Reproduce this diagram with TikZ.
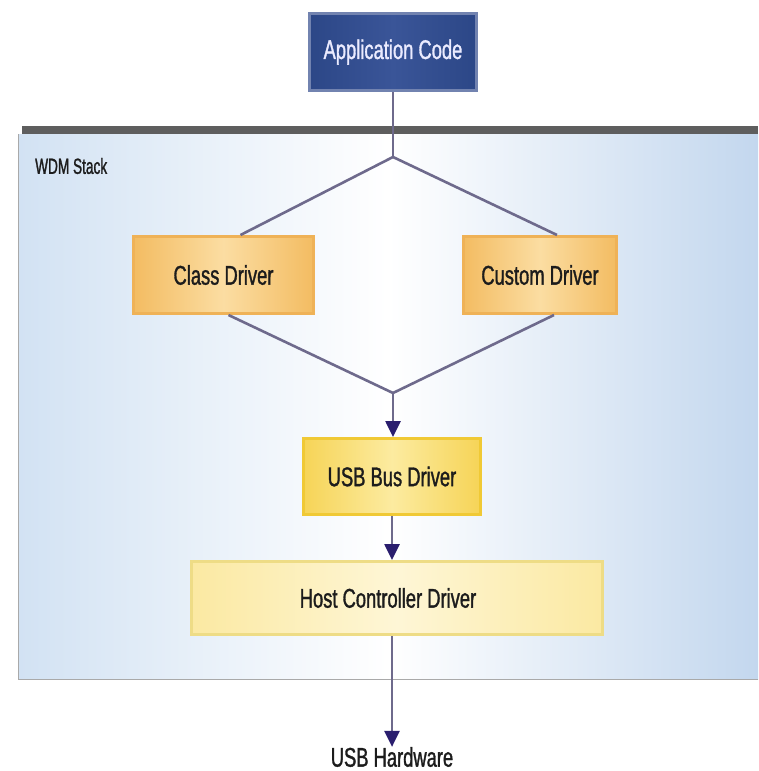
\documentclass[tikz,border=0pt]{standalone}
\usepackage{fontspec}
\newfontfamily\dfont[FakeStretch=0.68,FakeBold=1.2]{Liberation Sans}
\newfontfamily\sfont[FakeStretch=0.62,FakeBold=1.2]{Liberation Sans}
\usetikzlibrary{arrows.meta,calc}

\definecolor{appfill}{HTML}{2C4787}
\definecolor{appmid}{HTML}{3A5598}
\definecolor{appedge}{HTML}{7283B0}
\definecolor{barc}{HTML}{5E5E5E}
\definecolor{panelside}{HTML}{D2E2F3}
\definecolor{panelright}{HTML}{C3D7EE}
\definecolor{panelrule}{HTML}{A9A9A9}
\definecolor{linkc}{HTML}{6E6A8C}
\definecolor{tipc}{HTML}{2A1E6E}
\definecolor{orgedge}{HTML}{EFB257}
\definecolor{orgside}{HTML}{F3BC62}
\definecolor{orgmid}{HTML}{FBDDA2}
\definecolor{goldedge}{HTML}{F0C935}
\definecolor{goldside}{HTML}{F6D457}
\definecolor{goldmid}{HTML}{FCEBA0}
\definecolor{paleedge}{HTML}{EEDC86}
\definecolor{paleside}{HTML}{FBE9A2}
\definecolor{palemid}{HTML}{FEF6D6}
\definecolor{txt}{HTML}{1C1C1C}

\begin{document}
\begin{tikzpicture}[x=1pt,y=-1pt,
  lbl/.style={font=\dfont\fontsize{27}{30}\selectfont, text=txt},
  boxbase/.style={lbl, rectangle, line width=3pt, inner sep=0pt},
  appbox/.style={boxbase, draw=appedge, left color=appfill, right color=appfill,
    middle color=appmid, text=white!92!blue},
  orangebox/.style={boxbase, draw=orgedge, left color=orgside, right color=orgside,
    middle color=orgmid},
  goldbox/.style={boxbase, draw=goldedge, left color=goldside, right color=goldside,
    middle color=goldmid},
  palebox/.style={boxbase, draw=paleedge, left color=paleside, right color=paleside,
    middle color=palemid},
  link/.style={draw=linkc, line width=2.6pt},
  arrowlink/.style={link, -{Triangle[length=16pt,width=15pt,color=tipc]}}]

\useasboundingbox (0,0) rectangle (758,771);
\fill[white] (0,0) rectangle (758,771);

% WDM stack panel with its header bar
\shade[left color=panelside, right color=panelright, middle color=white]
  (18,134) rectangle (758,679);
\draw[panelrule, line width=1pt] (18.5,134) -- (18.5,679) -- (758,679);
\fill[barc] (22,126) rectangle (758,134);
\node[font=\sfont\fontsize{22}{24}\selectfont, text=txt, anchor=west, inner sep=0pt] (wdm) at (35,166) {WDM Stack};

% branch and merge points
\coordinate (split) at (393,157);
\coordinate (merge) at (393,393);

% layer boxes
\node[appbox, minimum width=167pt, minimum height=77pt] (app) at (393,52) {Application Code};
\node[orangebox, minimum width=180pt, minimum height=77pt] (class) at (223.5,275) {Class Driver};
\node[orangebox, minimum width=153pt, minimum height=77pt] (custom) at (540,275) {Custom Driver};
\node[goldbox, minimum width=177pt, minimum height=76pt] (usbbus) at (392,476.5) {USB Bus Driver};
\node[palebox, minimum width=411pt, minimum height=73pt] (hcd) at (397,598) {\hspace*{-18pt}Host Controller Driver};
\node[lbl, inner sep=0pt] (hw) at (392,757) {USB Hardware};

% connectors
\draw[link] (app.south) -- (split);
\draw[link] (split) -- ([xshift=17pt]class.north);
\draw[link] (split) -- ([xshift=17pt]custom.north);
\draw[link] ([xshift=5pt]class.south) -- (merge);
\draw[link] ([xshift=14pt]custom.south) -- (merge);
\draw[arrowlink] (merge) -- (merge |- usbbus.north);
\draw[arrowlink] (usbbus.south) -- (usbbus.south |- hcd.north);
\draw[arrowlink] (hcd.south -| usbbus.south) -- (hw.north -| usbbus.south);
\end{tikzpicture}
\end{document}
